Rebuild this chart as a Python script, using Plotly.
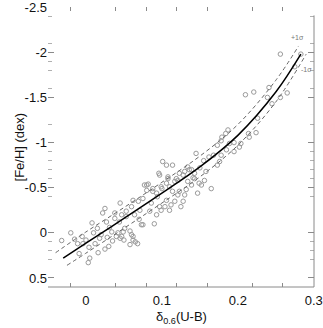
import plotly.graph_objects as go

# --- observed stars: delta_0.6(U-B) vs [Fe/H] ---
star_x = [
    -0.032, -0.020, -0.011, -0.004, -0.009, 0.005, 0.004, 0.008, 0.010, 0.018,
    0.025, 0.022, 0.027, 0.031, 0.034, 0.025, 0.038, 0.040, 0.045, 0.047,
    0.049, 0.053, 0.045, 0.015, 0.016, 0.038, 0.062, 0.075, 0.080, 0.088,
    0.094, -0.015, 0.000, 0.012, 0.030, 0.035, 0.042, 0.058, 0.020, -0.005,
    0.028, 0.050, 0.065, 0.101, 0.106, 0.114, 0.128, 0.139, 0.134, 0.143,
    0.149, 0.147, 0.121, 0.117, 0.108, 0.096, 0.077, 0.082, 0.080, 0.088,
    0.093, 0.100, 0.110, 0.114, 0.121, 0.130, 0.128, 0.117, 0.112, 0.106,
    0.097, 0.086, 0.075, 0.069, 0.062, 0.060, 0.053, 0.044, 0.071, 0.084,
    0.093, 0.073, 0.064, 0.051, 0.047, 0.060, 0.062, 0.110, 0.125, 0.141,
    0.099, 0.106, 0.108, 0.119, 0.123, 0.130, 0.136, 0.134, 0.139, 0.143,
    0.123, 0.152, 0.156, 0.165, 0.173, 0.176, 0.099, 0.104, 0.097, 0.155,
    0.168, 0.185, 0.150, 0.145, 0.162, 0.178, 0.173, 0.178, 0.179, 0.184,
    0.187, 0.189, 0.195, 0.202, 0.195, 0.204, 0.214, 0.215, 0.224, 0.226,
    0.210, 0.221, 0.239, 0.241, 0.245, 0.256, 0.265, 0.256, 0.275, 0.283,
    0.068, 0.090, 0.132, 0.158, 0.058, 0.003, 0.070,
]
star_y = [
    0.085, 0.00, 0.12, 0.12, 0.23, 0.28, 0.16, -0.11, 0.00, 0.06,
    0.18, -0.22, -0.12, -0.06, -0.01, -0.27, -0.16, 0.04, 0.06, -0.20,
    -0.01, -0.18, -0.33, -0.05, 0.22, -0.22, 0.04, -0.09, -0.53, -0.49,
    -0.40, 0.07, 0.08, 0.12, 0.15, 0.09, 0.00, -0.02, 0.02, 0.04,
    0.05, 0.08, 0.10, -0.79, -0.75, -0.75, -0.64, -0.70, -0.73, -0.66,
    -0.55, -0.44, -0.58, -0.57, -0.62, -0.66, -0.53, -0.54, -0.47, -0.46,
    -0.44, -0.49, -0.51, -0.46, -0.42, -0.42, -0.35, -0.35, -0.31, -0.36,
    -0.29, -0.33, -0.38, -0.35, -0.36, -0.29, -0.24, -0.12, -0.25, -0.24,
    -0.20, -0.09, -0.20, -0.05, 0.04, 0.02, 0.08, -0.25, -0.29, -0.61,
    -0.51, -0.55, -0.60, -0.60, -0.66, -0.68, -0.70, -0.57, -0.53, -0.60,
    -0.46, -0.53, -0.58, -0.49, -0.75, -0.79, -0.25, -0.29, -0.64, -0.80,
    -0.86, -0.92, -0.72, -0.88, -0.84, -0.86, -0.97, -1.02, -1.06, -1.10,
    -1.14, -0.99, -1.00, -0.95, -0.90, -0.99, -1.10, -1.06, -1.11, -1.27,
    -1.53, -1.56, -1.50, -1.61, -1.43, -1.50, -1.55, -1.98, -1.84, -1.98,
    0.12, -0.10, -0.48, -0.68, 0.13, 0.33, -0.15,
]

# --- calibration curve and its +/-1 sigma envelope ---
fit_x = [-0.03, 0.0, 0.05, 0.1, 0.15, 0.2, 0.25, 0.283]
fit_y = [0.28, 0.115, -0.16, -0.44, -0.73, -1.08, -1.56, -1.98]
upper_x = [-0.04, 0.0, 0.05, 0.1, 0.15, 0.2, 0.25, 0.28]
upper_y = [0.22, -0.01, -0.28, -0.56, -0.85, -1.20, -1.69, -2.07]
lower_x = [-0.025, 0.0, 0.05, 0.1, 0.15, 0.2, 0.25, 0.29]
lower_y = [0.36, 0.225, -0.05, -0.33, -0.62, -0.97, -1.45, -1.98]

x_labels = [0, 0.1, 0.2, 0.3]
x_minor = [-0.020, 0.039, 0.080, 0.119, 0.160, 0.219, 0.259]
y_labels = [-2.5, -2, -1.5, -1, -0.5, 0, 0.5]
y_minor = [-2.4, -2.1, -1.9, -1.8, -1.6, -1.2, -0.9, -0.8, -0.7, -0.6, -0.4, 0.2, 0.1, 0.3]

FONT = "Liberation Sans, Arial, sans-serif"
GRAY = "#8a8a8a"

fig = go.Figure()

fig.add_trace(go.Scatter(
    x=star_x, y=star_y, mode="markers",
    marker=dict(symbol="circle-open", size=4.5, color="#9a9a9a", line=dict(width=1)),
    showlegend=False, hoverinfo="skip",
))
for xs, ys in [(upper_x, upper_y), (lower_x, lower_y)]:
    fig.add_trace(go.Scatter(
        x=xs, y=ys, mode="lines", line_shape="spline",
        line=dict(color="#666666", width=1, dash="4px,3px"),
        showlegend=False, hoverinfo="skip",
    ))
fig.add_trace(go.Scatter(
    x=fit_x, y=fit_y, mode="lines", line_shape="spline",
    line=dict(color="black", width=1.5),
    showlegend=False, hoverinfo="skip",
))

axis_common = dict(
    showgrid=False, zeroline=False, showline=False, mirror="ticks",
    ticks="inside", tickcolor=GRAY, tickwidth=1, automargin=False,
    ticklabeloverflow="allow",
    tickfont=dict(family=FONT, size=13, color="#111111"),
)
fig.update_xaxes(
    range=[-0.05, 0.3003], tickmode="array", tickvals=x_labels,
    ticktext=["0", "0.1", "0.2", "0.3"], ticklen=0, ticklabelstandoff=4,
    minor=dict(tickmode="array", tickvals=x_minor, ticks="inside", ticklen=4, tickcolor=GRAY),
    **axis_common,
)
fig.update_yaxes(
    range=[0.6, -2.502], tickmode="array", tickvals=y_labels,
    ticktext=["-2.5", "-2", "-1.5", "-1", "-0.5", "0", "0.5"], ticklen=6,
    minor=dict(tickmode="array", tickvals=y_minor, ticks="inside", ticklen=4, tickcolor="#b0b0b0"),
    **axis_common,
)

# bottom and right frame lines only
fig.add_shape(type="line", xref="paper", yref="paper", x0=0, x1=1, y0=0, y1=0,
              line=dict(color=GRAY, width=1))
fig.add_shape(type="line", xref="paper", yref="paper", x0=1, x1=1, y0=0, y1=0.97,
              line=dict(color=GRAY, width=1))

fig.add_annotation(text="δ<sub>0.6</sub>(U-B)", xref="paper", yref="paper",
                   x=0.5, y=-0.11, yanchor="middle", showarrow=False,
                   font=dict(family=FONT, size=13, color="#111111"))
fig.add_annotation(text="[Fe/H] (dex)", xref="paper", yref="paper",
                   x=-0.143, y=0.5, textangle=-90, showarrow=False,
                   font=dict(family=FONT, size=13, color="#111111"))
fig.add_annotation(text="+1σ", x=0.279, y=-2.16, showarrow=False,
                   font=dict(family=FONT, size=7, color="#777777"))
fig.add_annotation(text="-1σ", x=0.290, y=-1.81, showarrow=False,
                   font=dict(family=FONT, size=7, color="#777777"))

fig.update_layout(
    width=323, height=328,
    margin=dict(l=48, r=9, t=7, b=41, autoexpand=False),
    paper_bgcolor="white", plot_bgcolor="white",
)

# drop the default page margin so the figure sits at the window's corner
fig.write_html("out.html", config={"displayModeBar": False},
               post_script="document.body.style.margin='0';")
